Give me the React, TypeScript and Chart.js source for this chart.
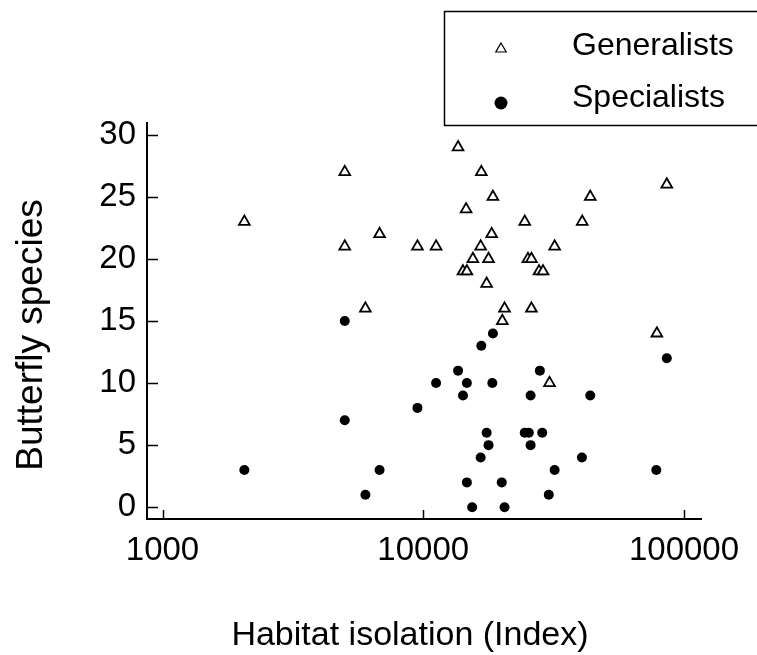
import React, { useEffect, useRef } from "react";
import { Chart, registerables } from "chart.js";

Chart.register(...registerables);

// ---- Data ----
const seriesNames = ["Generalists", "Specialists"];
const xTicks = [1000, 10000, 100000];
const yTicks = [0, 5, 10, 15, 20, 25, 30];
const xAxisTitle = "Habitat isolation (Index)";
const yAxisTitle = "Butterfly species";

const generalistX = [
  2060, 5000, 5000, 6000, 6800, 9500, 11200, 13600, 14200, 14700, 14600, 15500,
  16600, 16700, 17500, 17800, 18300, 18500, 20100, 20500, 24500, 25200, 26000,
  26000, 27800, 28800, 30500, 31900, 40700, 43700, 78700, 85900,
];
const generalistY = [
  23, 27, 21, 16, 22, 21, 21, 29, 19, 19, 24, 20,
  21, 27, 18, 20, 22, 25, 15, 16, 23, 20, 20,
  16, 19, 19, 10, 21, 23, 25, 14, 26,
];

const specialistX = [
  2060, 5000, 5000, 6000, 6800, 9500, 11200, 13600, 14200, 14700, 14700, 15400,
  16600, 16700, 17500, 17800, 18400, 18500, 20000, 20500, 24500, 25400, 25800,
  25800, 28000, 28600, 30300, 31900, 40600, 43700, 78300, 85900,
];
const specialistY = [
  3, 15, 7, 1, 3, 8, 10, 11, 9, 10, 2, 0,
  4, 13, 6, 5, 10, 14, 2, 0, 6, 6, 9,
  5, 11, 6, 1, 3, 4, 9, 3, 12,
];

const FONT = "'Liberation Sans', Arial, Helvetica, sans-serif";

function drawTriangle(ctx: CanvasRenderingContext2D, x: number, y: number, r: number) {
  ctx.beginPath();
  ctx.moveTo(x, y - r);
  ctx.lineTo(x + Math.sin((2 * Math.PI) / 3) * r, y + 0.5 * r);
  ctx.lineTo(x - Math.sin((2 * Math.PI) / 3) * r, y + 0.5 * r);
  ctx.closePath();
}

const decorPlugin = {
  id: "decor",
  afterDraw(chart: any) {
    const ctx: CanvasRenderingContext2D = chart.ctx;
    const xs = chart.scales.x;
    const ys = chart.scales.y;
    const { left, bottom } = chart.chartArea;
    ctx.save();
    // inward tick marks
    ctx.strokeStyle = "#000";
    ctx.lineWidth = 1.5;
    ctx.beginPath();
    yTicks.forEach((v) => {
      const py = Math.round(ys.getPixelForValue(v)) + 0.5;
      ctx.moveTo(left, py);
      ctx.lineTo(left + 11, py);
    });
    xTicks.forEach((v) => {
      const px = Math.round(xs.getPixelForValue(v)) + 0.5;
      ctx.moveTo(px, bottom);
      ctx.lineTo(px, bottom - 9);
    });
    ctx.stroke();

    // axis titles
    ctx.fillStyle = "#000";
    ctx.textAlign = "center";
    ctx.textBaseline = "alphabetic";
    ctx.font = `34px ${FONT}`;
    ctx.fillText(xAxisTitle, 410, 645);
    ctx.save();
    ctx.translate(42, 335);
    ctx.rotate(-Math.PI / 2);
    ctx.font = `37px ${FONT}`;
    ctx.fillText(yAxisTitle, 0, 0);
    ctx.restore();

    // legend
    ctx.lineWidth = 1.5;
    ctx.strokeStyle = "#000";
    ctx.strokeRect(444.5, 11.5, 400, 114);
    ctx.lineWidth = 1.2;
    ctx.fillStyle = "#fff";
    drawTriangle(ctx, 501, 49, 6);
    ctx.fill();
    ctx.stroke();
    ctx.fillStyle = "#000";
    ctx.beginPath();
    ctx.arc(501, 103, 6.5, 0, Math.PI * 2);
    ctx.fill();
    ctx.font = `32px ${FONT}`;
    ctx.textAlign = "left";
    ctx.fillText(seriesNames[0], 572, 55);
    ctx.fillText(seriesNames[1], 572, 107);
    ctx.restore();
  },
};

export default function App() {
  const canvasRef = useRef<HTMLCanvasElement | null>(null);

  useEffect(() => {
    if (!canvasRef.current) return;
    const chart = new Chart(canvasRef.current, {
      type: "scatter",
      data: {
        datasets: [
          {
            label: seriesNames[1],
            data: specialistX.map((x, i) => ({ x, y: specialistY[i] })),
            pointStyle: "circle",
            pointRadius: 5,
            pointBackgroundColor: "#000",
            pointBorderColor: "#000",
            pointBorderWidth: 0,
            showLine: false,
            clip: false as any,
          },
          {
            label: seriesNames[0],
            data: generalistX.map((x, i) => ({ x, y: generalistY[i] })),
            pointStyle: "triangle",
            pointRadius: 6.2,
            pointBackgroundColor: "#fff",
            pointBorderColor: "#000",
            pointBorderWidth: 1.8,
            showLine: false,
            clip: false as any,
          },
        ],
      },
      options: {
        animation: false,
        responsive: false,
        devicePixelRatio: 1,
        events: [],
        layout: { padding: { top: 123, right: 56, left: 0, bottom: 0 } },
        plugins: {
          legend: { display: false },
          tooltip: { enabled: false },
          title: { display: false },
        },
        scales: {
          x: {
            type: "logarithmic",
            min: 872,
            max: 116200,
            afterBuildTicks: (s: any) => {
              s.ticks = xTicks.map((v) => ({ value: v }));
            },
            afterFit: (s: any) => {
              s.height = 136;
            },
            grid: { display: false, drawTicks: false },
            border: { display: true, color: "#000", width: 2 },
            ticks: {
              color: "#000",
              font: { family: FONT, size: 33 },
              padding: 12,
              maxRotation: 0,
              autoSkip: false,
              callback: (v: any) => String(v),
            },
          },
          y: {
            type: "linear",
            min: -0.95,
            max: 30.95,
            afterBuildTicks: (s: any) => {
              s.ticks = yTicks.map((v) => ({ value: v }));
            },
            afterFit: (s: any) => {
              s.width = 147;
            },
            grid: { display: false, drawTicks: false },
            border: { display: true, color: "#000", width: 2 },
            ticks: {
              color: "#000",
              font: { family: FONT, size: 33 },
              padding: 11,
              autoSkip: false,
              callback: (v: any) => String(v),
            },
          },
        },
      },
      plugins: [decorPlugin],
    });
    return () => chart.destroy();
  }, []);

  return (
    <div style={{ position: "fixed", left: 0, top: 0, width: 757, height: 655, background: "#fff" }}>
      <canvas ref={canvasRef} width={757} height={655} style={{ display: "block", width: 757, height: 655 }} />
    </div>
  );
}
